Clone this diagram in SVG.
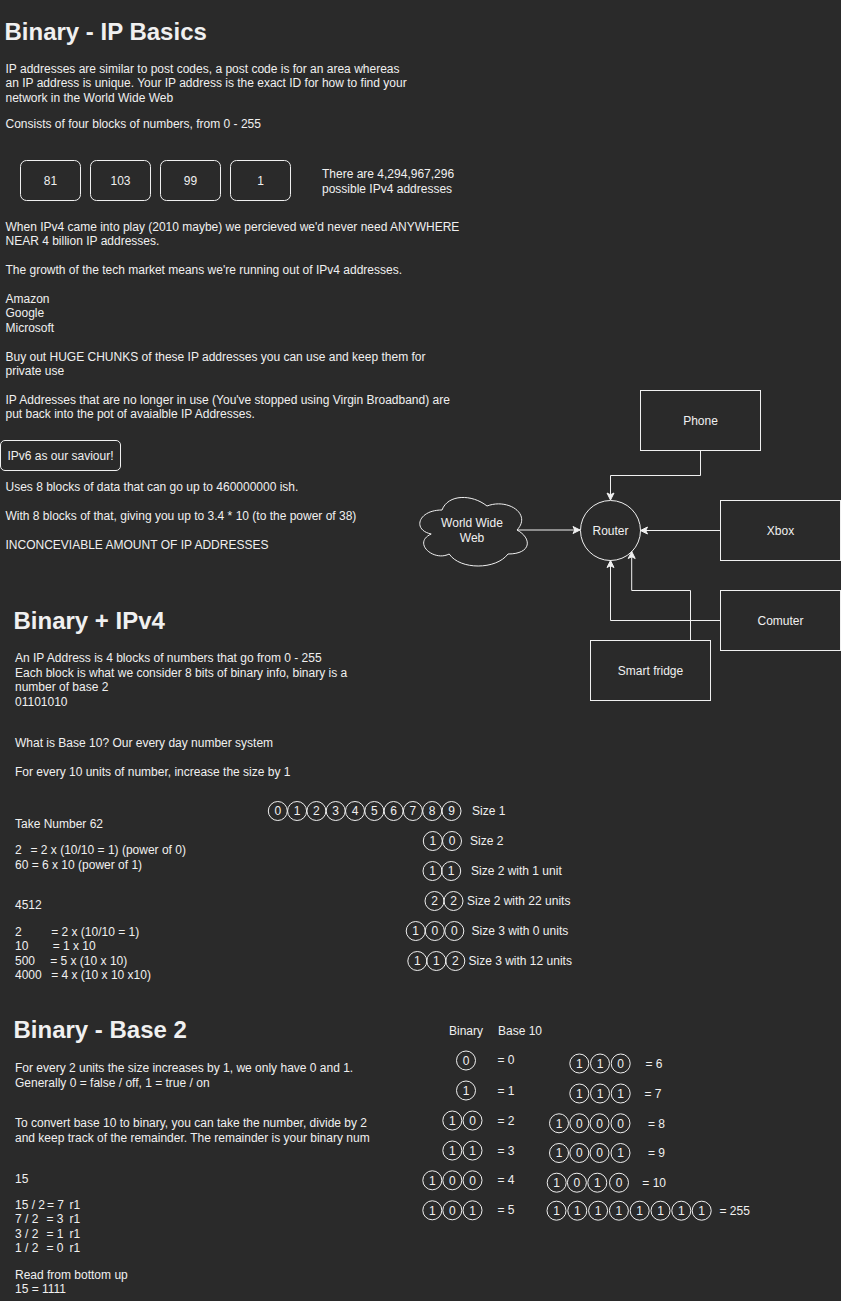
<svg xmlns="http://www.w3.org/2000/svg" width="841" height="1301" viewBox="0 0 841 1301">
<defs>
<style>
text{font-family:"Liberation Sans",Arial,Helvetica,sans-serif;font-size:12px;fill:#f0f0f0}
.h{font-size:24px;font-weight:bold}
.m{text-anchor:middle}
.box{fill:none;stroke:#f0f0f0;stroke-width:1}
.c{fill:none;stroke:#f0f0f0;stroke-width:1}
.e{fill:none;stroke:#f0f0f0;stroke-width:1;marker-end:url(#arr)}
</style>
<marker id="arr" markerWidth="8" markerHeight="8" refX="7" refY="3.5" orient="auto" markerUnits="userSpaceOnUse" overflow="visible"><path d="M0,0 L7,3.5 L0,7 L1.75,3.5 Z" fill="#f0f0f0" stroke="#f0f0f0" stroke-width="1"/></marker>
</defs>
<rect x="0" y="0" width="841" height="1301" fill="#2a2a2a"/>

<!-- Section 1 -->
<g id="sec1-text">
<text class="h" x="4.5" y="39.5">Binary - IP Basics</text>
<text x="5.5" y="73">IP addresses are similar to post codes, a post code is for an area whereas</text>
<text x="5.5" y="87.4">an IP address is unique. Your IP address is the exact ID for how to find your</text>
<text x="5.5" y="101.8">network in the World Wide Web</text>
<text x="5.5" y="127.6">Consists of four blocks of numbers, from 0 - 255</text>
<text x="322" y="178.3">There are 4,294,967,296</text>
<text x="322" y="192.7">possible IPv4 addresses</text>
<text x="5.5" y="231">When IPv4 came into play (2010 maybe) we percieved we'd never need ANYWHERE</text>
<text x="5.5" y="245.4">NEAR 4 billion IP addresses.</text>
<text x="5.5" y="274.2">The growth of the tech market means we're running out of IPv4 addresses.</text>
<text x="5.5" y="303">Amazon</text>
<text x="5.5" y="317.4">Google</text>
<text x="5.5" y="331.8">Microsoft</text>
<text x="5.5" y="360.6">Buy out HUGE CHUNKS of these IP addresses you can use and keep them for</text>
<text x="5.5" y="375">private use</text>
<text x="5.5" y="403.8">IP Addresses that are no longer in use (You've stopped using Virgin Broadband) are</text>
<text x="5.5" y="418.2">put back into the pot of avaialble IP Addresses.</text>
<text x="5.5" y="491.4">Uses 8 blocks of data that can go up to 460000000 ish.</text>
<text x="5.5" y="520.2">With 8 blocks of that, giving you up to 3.4 * 10 (to the power of 38)</text>
<text x="5.5" y="549">INCONCEVIABLE AMOUNT OF IP ADDRESSES</text>
</g>
<g id="ip-81"><rect class="box" x="20.5" y="160.5" width="60" height="40" rx="6"/><text class="m" x="50.5" y="184.8">81</text></g>
<g id="ip-103"><rect class="box" x="90.5" y="160.5" width="60" height="40" rx="6"/><text class="m" x="120.5" y="184.8">103</text></g>
<g id="ip-99"><rect class="box" x="160.5" y="160.5" width="60" height="40" rx="6"/><text class="m" x="190.5" y="184.8">99</text></g>
<g id="ip-1"><rect class="box" x="230.5" y="160.5" width="60" height="40" rx="6"/><text class="m" x="260.5" y="184.8">1</text></g>
<g id="ipv6"><rect class="box" x="0.5" y="440.5" width="120" height="30" rx="4.5"/><text class="m" x="60.5" y="459.6">IPv6 as our saviour!</text></g>

<!-- Network -->
<g id="connectors">
<path class="e" d="M517,530 L580,530"/>
<path class="e" d="M700.5,450.5 L700.5,475.5 L610.5,475.5 L610.5,500"/>
<path class="e" d="M720,530.5 L640.5,530.5"/>
<path class="e" d="M720,620.5 L610.5,620.5 L610.5,560.5"/>
<path class="e" d="M690.5,640 L690.5,590.5 L631.7,590.5 L631.7,551.5"/>
</g>
<g id="www"><path class="box" d="M442,510 C418,510 412,530 431.2,534 C412,542.8 433.6,562 449.2,554 C460,570 496,570 508,554 C532,554 532,538 517,530 C532,514 508,498 487,506 C472,494 448,494 442,510 Z"/><text class="m" x="472" y="527">World Wide</text><text class="m" x="472" y="541.5">Web</text></g>
<g id="router"><circle class="box" cx="610.5" cy="530.5" r="30"/><text class="m" x="610.5" y="534.8">Router</text></g>
<g id="phone"><rect class="box" x="640.5" y="390.5" width="120" height="60"/><text class="m" x="700.5" y="424.8">Phone</text></g>
<g id="xbox"><rect class="box" x="720.5" y="500.5" width="120" height="60"/><text class="m" x="780.5" y="534.8">Xbox</text></g>
<g id="comuter"><rect class="box" x="720.5" y="590.5" width="120" height="60"/><text class="m" x="780.5" y="624.8">Comuter</text></g>
<g id="fridge"><rect class="box" x="590.5" y="640.5" width="120" height="60"/><text class="m" x="650.5" y="674.8">Smart fridge</text></g>

<!-- Section 2 -->
<g id="sec2-text">
<text class="h" x="13.5" y="629.3">Binary + IPv4</text>
<text x="15" y="662.3">An IP Address is 4 blocks of numbers that go from 0 - 255</text>
<text x="15" y="676.7">Each block is what we consider 8 bits of binary info, binary is a</text>
<text x="15" y="691.1">number of base 2</text>
<text x="15" y="705.5">01101010</text>
<text x="15" y="746.7">What is Base 10? Our every day number system</text>
<text x="15" y="775.5">For every 10 units of number, increase the size by 1</text>
<text x="15" y="828.3">Take Number 62</text>
<text x="15" y="854.3">2</text><text x="30.5" y="854.3">= 2 x (10/10 = 1) (power of 0)</text>
<text x="15" y="868.7">60 = 6 x 10 (power of 1)</text>
<text x="15" y="909.3">4512</text>
<text x="15" y="936">2</text><text x="51.2" y="936">= 2 x (10/10 = 1)</text>
<text x="15" y="950.4">10</text><text x="52.7" y="950.4">= 1 x 10</text>
<text x="15" y="964.8">500</text><text x="50.2" y="964.8">= 5 x (10 x 10)</text>
<text x="15" y="979.2">4000</text><text x="51.2" y="979.2">= 4 x (10 x 10 x10)</text>
</g>
<g id="base10-size1">
<circle class="c" cx="277.8" cy="811" r="9.5"/><text class="m" x="277.8" y="815.3">0</text>
<circle class="c" cx="297.1" cy="811" r="9.5"/><text class="m" x="297.1" y="815.3">1</text>
<circle class="c" cx="316.4" cy="811" r="9.5"/><text class="m" x="316.4" y="815.3">2</text>
<circle class="c" cx="335.7" cy="811" r="9.5"/><text class="m" x="335.7" y="815.3">3</text>
<circle class="c" cx="355" cy="811" r="9.5"/><text class="m" x="355" y="815.3">4</text>
<circle class="c" cx="374.3" cy="811" r="9.5"/><text class="m" x="374.3" y="815.3">5</text>
<circle class="c" cx="393.6" cy="811" r="9.5"/><text class="m" x="393.6" y="815.3">6</text>
<circle class="c" cx="412.9" cy="811" r="9.5"/><text class="m" x="412.9" y="815.3">7</text>
<circle class="c" cx="432.2" cy="811" r="9.5"/><text class="m" x="432.2" y="815.3">8</text>
<circle class="c" cx="451.5" cy="811" r="9.5"/><text class="m" x="451.5" y="815.3">9</text>
<text x="472" y="815.3">Size 1</text>
</g>
<g id="base10-size2">
<circle class="c" cx="432.8" cy="841" r="9.5"/><text class="m" x="432.8" y="845.3">1</text>
<circle class="c" cx="452" cy="841" r="9.5"/><text class="m" x="452" y="845.3">0</text>
<text x="470" y="845.3">Size 2</text>
</g>
<g id="base10-size2-1">
<circle class="c" cx="432.5" cy="871" r="9.5"/><text class="m" x="432.5" y="875.3">1</text>
<circle class="c" cx="451.2" cy="871" r="9.5"/><text class="m" x="451.2" y="875.3">1</text>
<text x="471" y="875.3">Size 2 with 1 unit</text>
</g>
<g id="base10-size2-22">
<circle class="c" cx="434.5" cy="901" r="9.5"/><text class="m" x="434.5" y="905.3">2</text>
<circle class="c" cx="453.5" cy="901" r="9.5"/><text class="m" x="453.5" y="905.3">2</text>
<text x="467" y="905.3">Size 2 with 22 units</text>
</g>
<g id="base10-size3-0">
<circle class="c" cx="415.7" cy="931" r="9.5"/><text class="m" x="415.7" y="935.3">1</text>
<circle class="c" cx="434.8" cy="931" r="9.5"/><text class="m" x="434.8" y="935.3">0</text>
<circle class="c" cx="454.3" cy="931" r="9.5"/><text class="m" x="454.3" y="935.3">0</text>
<text x="471.5" y="935.3">Size 3 with 0 units</text>
</g>
<g id="base10-size3-12">
<circle class="c" cx="417.3" cy="961" r="9.5"/><text class="m" x="417.3" y="965.3">1</text>
<circle class="c" cx="436.3" cy="961" r="9.5"/><text class="m" x="436.3" y="965.3">1</text>
<circle class="c" cx="455.3" cy="961" r="9.5"/><text class="m" x="455.3" y="965.3">2</text>
<text x="468.5" y="965.3">Size 3 with 12 units</text>
</g>

<!-- Section 3 -->
<g id="sec3-text">
<text class="h" x="13.5" y="1038.3">Binary - Base 2</text>
<text x="15" y="1072.3">For every 2 units the size increases by 1, we only have 0 and 1.</text>
<text x="15" y="1086.7">Generally 0 = false / off, 1 = true / on</text>
<text x="15" y="1127.3">To convert base 10 to binary, you can take the number, divide by 2</text>
<text x="15" y="1141.7">and keep track of the remainder. The remainder is your binary num</text>
<text x="15" y="1182.7">15</text>
<text x="15" y="1208.7">15 / 2</text><text x="47" y="1208.7">= 7</text><text x="69.5" y="1208.7">r1</text>
<text x="15" y="1223.1">7 / 2</text><text x="46.5" y="1223.1">= 3</text><text x="69.5" y="1223.1">r1</text>
<text x="15" y="1237.5">3 / 2</text><text x="46.5" y="1237.5">= 1</text><text x="69.5" y="1237.5">r1</text>
<text x="15" y="1251.9">1 / 2</text><text x="46.5" y="1251.9">= 0</text><text x="69.5" y="1251.9">r1</text>
<text x="15" y="1278.7">Read from bottom up</text>
<text x="15" y="1293.1">15 = 1111</text>
</g>
<g id="bin-header"><text x="449" y="1034.5">Binary</text><text x="498" y="1034.5">Base 10</text></g>
<g id="bin-0"><circle class="c" cx="466" cy="1060.5" r="9.5"/><text class="m" x="466" y="1064.8">0</text><text x="497.5" y="1064.3">= 0</text></g>
<g id="bin-1"><circle class="c" cx="466" cy="1090.5" r="9.5"/><text class="m" x="466" y="1094.8">1</text><text x="497.5" y="1094.5">= 1</text></g>
<g id="bin-2"><circle class="c" cx="452.3" cy="1120.5" r="9.5"/><text class="m" x="452.3" y="1124.8">1</text><circle class="c" cx="472.5" cy="1120.5" r="9.5"/><text class="m" x="472.5" y="1124.8">0</text><text x="497.5" y="1124.5">= 2</text></g>
<g id="bin-3"><circle class="c" cx="452.3" cy="1150.5" r="9.5"/><text class="m" x="452.3" y="1154.8">1</text><circle class="c" cx="472.5" cy="1150.5" r="9.5"/><text class="m" x="472.5" y="1154.8">1</text><text x="497.5" y="1154.5">= 3</text></g>
<g id="bin-4"><circle class="c" cx="432.3" cy="1180.3" r="9.5"/><text class="m" x="432.3" y="1184.6">1</text><circle class="c" cx="452.3" cy="1180.3" r="9.5"/><text class="m" x="452.3" y="1184.6">0</text><circle class="c" cx="472.5" cy="1180.3" r="9.5"/><text class="m" x="472.5" y="1184.6">0</text><text x="497.5" y="1184.3">= 4</text></g>
<g id="bin-5"><circle class="c" cx="432.3" cy="1210.3" r="9.5"/><text class="m" x="432.3" y="1214.6">1</text><circle class="c" cx="452.3" cy="1210.3" r="9.5"/><text class="m" x="452.3" y="1214.6">0</text><circle class="c" cx="472.5" cy="1210.3" r="9.5"/><text class="m" x="472.5" y="1214.6">1</text><text x="497.5" y="1214.3">= 5</text></g>
<g id="bin-6"><circle class="c" cx="579.3" cy="1063.5" r="9.5"/><text class="m" x="579.3" y="1067.8">1</text><circle class="c" cx="600" cy="1063.5" r="9.5"/><text class="m" x="600" y="1067.8">1</text><circle class="c" cx="620.7" cy="1063.5" r="9.5"/><text class="m" x="620.7" y="1067.8">0</text><text x="645.5" y="1067.7">= 6</text></g>
<g id="bin-7"><circle class="c" cx="579.3" cy="1093.5" r="9.5"/><text class="m" x="579.3" y="1097.8">1</text><circle class="c" cx="600" cy="1093.5" r="9.5"/><text class="m" x="600" y="1097.8">1</text><circle class="c" cx="620.7" cy="1093.5" r="9.5"/><text class="m" x="620.7" y="1097.8">1</text><text x="644.5" y="1097.7">= 7</text></g>
<g id="bin-8"><circle class="c" cx="559" cy="1123.3" r="9.5"/><text class="m" x="559" y="1127.6">1</text><circle class="c" cx="579.3" cy="1123.3" r="9.5"/><text class="m" x="579.3" y="1127.6">0</text><circle class="c" cx="599.5" cy="1123.3" r="9.5"/><text class="m" x="599.5" y="1127.6">0</text><circle class="c" cx="620.5" cy="1123.3" r="9.5"/><text class="m" x="620.5" y="1127.6">0</text><text x="648" y="1127.6">= 8</text></g>
<g id="bin-9"><circle class="c" cx="559" cy="1153" r="9.5"/><text class="m" x="559" y="1157.3">1</text><circle class="c" cx="579.3" cy="1153" r="9.5"/><text class="m" x="579.3" y="1157.3">0</text><circle class="c" cx="599.5" cy="1153" r="9.5"/><text class="m" x="599.5" y="1157.3">0</text><circle class="c" cx="620.5" cy="1153" r="9.5"/><text class="m" x="620.5" y="1157.3">1</text><text x="648" y="1157.3">= 9</text></g>
<g id="bin-10"><circle class="c" cx="556.7" cy="1182.7" r="9.5"/><text class="m" x="556.7" y="1187">1</text><circle class="c" cx="576.9" cy="1182.7" r="9.5"/><text class="m" x="576.9" y="1187">0</text><circle class="c" cx="597.3" cy="1182.7" r="9.5"/><text class="m" x="597.3" y="1187">1</text><circle class="c" cx="619" cy="1182.7" r="9.5"/><text class="m" x="619" y="1187">0</text><text x="642.3" y="1187">= 10</text></g>
<g id="bin-255">
<circle class="c" cx="556.5" cy="1210.7" r="9.5"/><text class="m" x="556.5" y="1215">1</text>
<circle class="c" cx="577.3" cy="1210.7" r="9.5"/><text class="m" x="577.3" y="1215">1</text>
<circle class="c" cx="598.1" cy="1210.7" r="9.5"/><text class="m" x="598.1" y="1215">1</text>
<circle class="c" cx="618.9" cy="1210.7" r="9.5"/><text class="m" x="618.9" y="1215">1</text>
<circle class="c" cx="639.7" cy="1210.7" r="9.5"/><text class="m" x="639.7" y="1215">1</text>
<circle class="c" cx="660.5" cy="1210.7" r="9.5"/><text class="m" x="660.5" y="1215">1</text>
<circle class="c" cx="681.3" cy="1210.7" r="9.5"/><text class="m" x="681.3" y="1215">1</text>
<circle class="c" cx="701.7" cy="1210.7" r="9.5"/><text class="m" x="701.7" y="1215">1</text>
<text x="719.5" y="1215">= 255</text>
</g>
</svg>
